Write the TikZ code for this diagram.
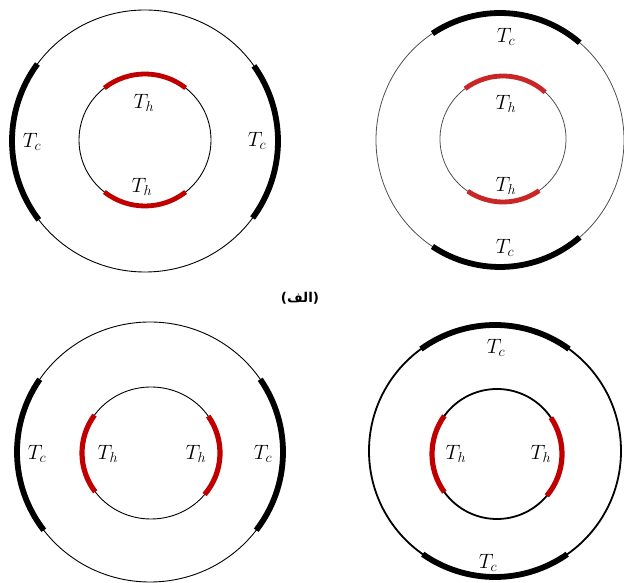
\documentclass[tikz,border=0pt]{standalone}
\usepackage{fontspec}
\newfontfamily\arabicfont[Script=Arabic]{DejaVu Sans}
\newfontfamily\parenfont{DejaVu Sans}
\TeXXeTstate=1
\definecolor{hotred}{HTML}{C00000}
\definecolor{thingray}{HTML}{505050}

\begin{document}
\begin{tikzpicture}[x=1pt,y=1pt,every node/.style={font=\fontsize{22}{24}\selectfont},
  wall/.style={line width=0.9pt},
  coldwall/.style={line width=5.8pt},
  hotwall/.style={line width=4.8pt,draw=hotred}]
\useasboundingbox (0,0) rectangle (624,583);
% top left annulus
\coordinate (tlo) at (145,442);
\coordinate (tli) at (145,443);
\draw[wall] (tlo) ellipse [x radius=133,y radius=131];
\draw[wall] (tli) circle [radius=66];
\draw[coldwall] (tlo) ++(144:133 and 131) arc[start angle=144,end angle=217,x radius=133,y radius=131];
\draw[coldwall] (tlo) ++(-36:133 and 131) arc[start angle=-36,end angle=35,x radius=133,y radius=131];
\draw[hotwall] (tli) ++(52:66) arc[start angle=52,end angle=128,radius=66];
\draw[hotwall] (tli) ++(232:66) arc[start angle=232,end angle=308,radius=66];
\node (tlh1) at (144,480) {$T_h$};
\node (tlh2) at (142,396) {$T_h$};
\node (tlc1) at (32,441) {$T_c$};
\node (tlc2) at (257,442) {$T_c$};
% top right annulus
\coordinate (tro) at (500,443);
\coordinate (tri) at (503,444);
\draw[wall,thingray,line width=0.8pt] (tro) ellipse [x radius=124,y radius=127];
\draw[wall,thingray,line width=0.8pt] (tri) circle [radius=63];
\draw[coldwall] (tro) ++(50:124 and 127) arc[start angle=50,end angle=123,x radius=124,y radius=127];
\draw[coldwall] (tro) ++(237:124 and 127) arc[start angle=237,end angle=310,x radius=124,y radius=127];
\draw[hotwall,draw=hotred!85!white] (tri) ++(48:63) arc[start angle=48,end angle=127,radius=63];
\draw[hotwall,draw=hotred!85!white] (tri) ++(236:63) arc[start angle=236,end angle=305,radius=63];
\node (trc1) at (506,546) {$T_c$};
\node (trh1) at (506,479) {$T_h$};
\node (trh2) at (506,397) {$T_h$};
\node (trc2) at (505,335) {$T_c$};
% caption
\node (alef) at (300,285) {\fontsize{13.5}{15}\selectfont{\parenfont\bfseries(}{\arabicfont\bfseries\beginR الف\endR}{\parenfont\bfseries)}};
% bottom left annulus
\coordinate (blo) at (150,131);
\coordinate (bli) at (151,130);
\draw[wall] (blo) ellipse [x radius=133,y radius=130];
\draw[wall] (bli) ellipse [x radius=69,y radius=66];
\draw[coldwall] (blo) ++(146:133 and 130) arc[start angle=146,end angle=217,x radius=133,y radius=130];
\draw[coldwall] (blo) ++(-37:133 and 130) arc[start angle=-37,end angle=34,x radius=133,y radius=130];
\draw[hotwall,line width=5.2pt] (bli) ++(145:69 and 66) arc[start angle=145,end angle=216,x radius=69,y radius=66];
\draw[hotwall,line width=5.2pt] (bli) ++(-39:69 and 66) arc[start angle=-39,end angle=34,x radius=69,y radius=66];
\node (blc1) at (37,129) {$T_c$};
\node (blh1) at (108,129) {$T_h$};
\node (blh2) at (196,129) {$T_h$};
\node (blc2) at (263,129) {$T_c$};
% bottom right annulus
\coordinate (bro) at (495,132);
\coordinate (bri) at (497,129);
\draw[wall,line width=1.8pt] (bro) circle [radius=126];
\draw[wall,line width=1.8pt] (bri) circle [radius=65];
\draw[coldwall] (bro) ++(54:126) arc[start angle=54,end angle=126,radius=126];
\draw[coldwall] (bro) ++(235:126) arc[start angle=235,end angle=305,radius=126];
\draw[hotwall,line width=5.2pt] (bri) ++(144:65) arc[start angle=144,end angle=216,radius=65];
\draw[hotwall,line width=5.2pt] (bri) ++(-40:65) arc[start angle=-40,end angle=34,radius=65];
\node (brc1) at (496,235) {$T_c$};
\node (brh1) at (456,129) {$T_h$};
\node (brh2) at (541,129) {$T_h$};
\node (brc2) at (488,20) {$T_c$};
\end{tikzpicture}
\end{document}
